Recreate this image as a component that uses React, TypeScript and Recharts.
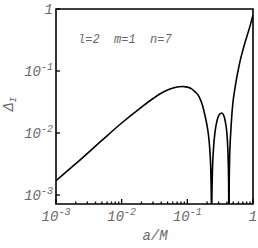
import React from "react";
import { Customized, Line, LineChart, ReferenceArea, XAxis, YAxis } from "recharts";

const aValues = [
  0.001, 0.002, 0.005, 0.01, 0.019, 0.03, 0.038, 0.05, 0.065, 0.075, 0.085, 0.095,
  0.105, 0.115, 0.13, 0.15, 0.17, 0.186, 0.2, 0.21, 0.22, 0.228, 0.232, 0.234,
  0.236, 0.24, 0.25, 0.263, 0.28, 0.3, 0.333, 0.36, 0.38, 0.4, 0.41, 0.42,
  0.426, 0.43, 0.434, 0.44, 0.45, 0.46, 0.47, 0.48, 0.5, 0.53, 0.56, 0.6,
  0.65, 0.7, 0.75, 0.8, 0.9, 1,
];
const deltaValues = [
  0.0017, 0.0032, 0.0076, 0.0145, 0.025, 0.036, 0.0425, 0.0494, 0.0542, 0.0557, 0.0561, 0.0555,
  0.0541, 0.052, 0.0465, 0.039, 0.028, 0.019, 0.013, 0.0092, 0.0053, 0.0023, 0.0008, 0.0001,
  0.0007, 0.002, 0.0055, 0.01, 0.015, 0.019, 0.021, 0.019, 0.015, 0.01, 0.0067, 0.0033,
  0.0014, 0.0001, 0.0014, 0.0037, 0.0073, 0.011, 0.016, 0.022, 0.034, 0.052, 0.074, 0.108,
  0.16, 0.215, 0.28, 0.35, 0.53, 0.8,
];

const majorTicks = [0.001, 0.01, 0.1, 1];
const tickBase = ["10", "10", "10", "1"];
const tickExp = ["-3", "-2", "-1", ""];
const minorTicks = [0.001, 0.01, 0.1].flatMap((d) => [2, 3, 4, 5, 6, 7, 8, 9].map((k) => k * d));

const title = "l=2  m=1  n=7";
const xTitle = "a/M";

const data = aValues.map((a, i) => ({ a, d: deltaValues[i] }));

const yMin = Math.pow(10, -3.145);
const font = "'Liberation Mono', 'DejaVu Sans Mono', monospace";
const gray = "#686868";

function TickText({ x, y, i, anchor }: { x: number; y: number; i: number; anchor: string }) {
  return (
    <text x={x} y={y} textAnchor={anchor} fontFamily={font} fontStyle="italic" fontSize={14} fill={gray}>
      <tspan>{tickBase[i]}</tspan>
      {tickExp[i] && (
        <tspan dy={-6} fontSize={10}>
          {tickExp[i]}
        </tspan>
      )}
    </text>
  );
}

function XTick(props: any) {
  const { x, y, payload } = props;
  const i = majorTicks.indexOf(payload.value);
  return (
    <g>
      <line x1={x} x2={x} y1={y} y2={y - (i >= 0 ? 5 : 2.5)} stroke="#000" strokeWidth={1.3} />
      {i >= 0 && <TickText x={x} y={y + 17} i={i} anchor="middle" />}
    </g>
  );
}

function YTick(props: any) {
  const { x, y, payload } = props;
  const i = majorTicks.indexOf(payload.value);
  if (i < 0) return null;
  return (
    <g>
      <line x1={x} x2={x + 4} y1={y} y2={y} stroke="#000" strokeWidth={1.3} />
      <TickText x={x - 3} y={y + 5} i={i} anchor="end" />
    </g>
  );
}

function Labels() {
  return (
    <g fontFamily={font} fontStyle="italic" fill={gray}>
      <text x={78} y={43} fontSize={12} style={{ whiteSpace: "pre" }}>
        {title}
      </text>
      <text x={155} y={240} fontSize={14} textAnchor="middle">
        {xTitle}
      </text>
      <text transform="rotate(-90 13 104)" x={13} y={104} fontSize={14} textAnchor="middle">
        <tspan>Δ</tspan>
        <tspan dy={3} fontSize={9}>I</tspan>
      </text>
    </g>
  );
}

export default function App() {
  return (
    <div style={{ position: "absolute", left: 0, top: 0, background: "#fff" }}>
      <LineChart width={258} height={248} data={data} margin={{ top: 9, right: 5, left: 0, bottom: 0 }}>
        <XAxis
          dataKey="a"
          type="number"
          scale="log"
          domain={[0.001, 1]}
          allowDataOverflow
          ticks={[...majorTicks, ...minorTicks]}
          interval={0}
          tick={<XTick />}
          tickLine={false}
          tickSize={0}
          tickMargin={0}
          height={44}
          axisLine={false}
        />
        <YAxis
          type="number"
          scale="log"
          domain={[yMin, 1]}
          allowDataOverflow
          ticks={majorTicks}
          interval={0}
          tick={<YTick />}
          tickLine={false}
          tickSize={0}
          tickMargin={0}
          width={56}
          axisLine={false}
        />
        <ReferenceArea x1={0.001} x2={1} y1={yMin} y2={1} fill="none" stroke="#000" strokeWidth={1.6} />
        <Line
          type="monotone"
          dataKey="d"
          stroke="#000"
          strokeWidth={1.6}
          dot={false}
          isAnimationActive={false}
        />
        <Customized component={Labels} />
      </LineChart>
    </div>
  );
}
